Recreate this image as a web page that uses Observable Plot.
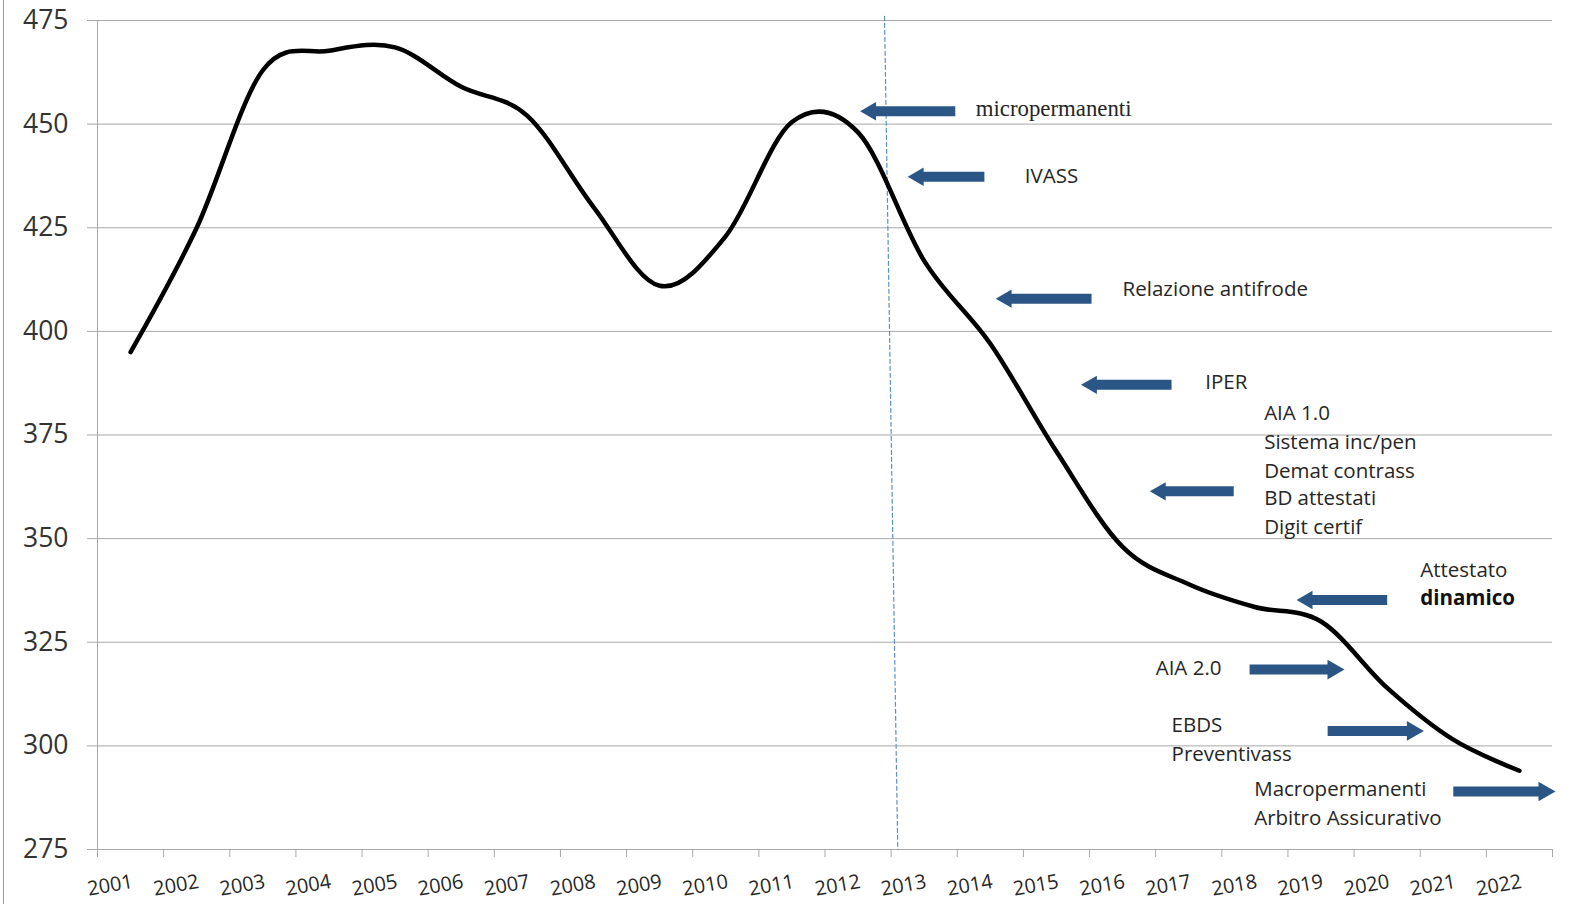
<!DOCTYPE html>
<html>
<head>
<meta charset="utf-8">
<script src="https://cdn.jsdelivr.net/npm/d3@7"></script>
<script src="https://cdn.jsdelivr.net/npm/@observablehq/plot@0.6"></script>
<style>
  html, body { margin: 0; padding: 0; background: #fff; overflow: hidden; }
  #wrap { position: relative; width: 1575px; height: 904px; overflow: hidden; }
  #wrap svg { display: block; max-width: none !important; }
  #edge { position: absolute; left: 3px; top: 0; width: 1px; height: 904px; background: #9a9a9a; }
</style>
</head>
<body>
<div id="wrap"><div id="edge"></div></div>
<script>
// ---- data ----
const years = [2001, 2002, 2003, 2004, 2005, 2006, 2007, 2008, 2009, 2010, 2011,
               2012, 2013, 2014, 2015, 2016, 2017, 2018, 2019, 2020, 2021, 2022];
const values = [395, 425, 463, 467.7, 468.5, 459, 452, 430, 411, 423, 450.5,
                448, 417, 397, 371, 348, 339, 333.5, 330, 314, 301.5, 294];
const yTicks = [275, 300, 325, 350, 375, 400, 425, 450, 475];
const xBoundaries = [2000.5, 2001.5, 2002.5, 2003.5, 2004.5, 2005.5, 2006.5, 2007.5,
                     2008.5, 2009.5, 2010.5, 2011.5, 2012.5, 2013.5, 2014.5, 2015.5,
                     2016.5, 2017.5, 2018.5, 2019.5, 2020.5, 2021.5, 2022.5];

// dashed marker line (slightly slanted, as drawn)
const markerX = [2012.40, 2012.60];
const markerY = [476, 275];

// block arrows: tail, tip (x in years), y value
const arrowTail = [2013.47, 2013.91, 2015.53, 2016.74, 2017.68, 2020.0, 2017.92, 2019.10, 2021.0];
const arrowTip  = [2012.04, 2012.76, 2014.09, 2015.38, 2016.42, 2018.64, 2019.35, 2020.55, 2022.54];
const arrowY    = [453.1, 437.3, 407.9, 387.1, 361.4, 335.2, 318.4, 303.6, 289.0];

// annotation texts
const noteText = ["IVASS", "Relazione antifrode", "IPER",
  "AIA 1.0", "Sistema inc/pen", "Demat contrass", "BD attestati", "Digit certif",
  "Attestato", "AIA 2.0", "EBDS", "Preventivass", "Macropermanenti", "Arbitro Assicurativo"];
const noteX = [2014.52, 2016.0, 2017.25,
  2018.14, 2018.14, 2018.14, 2018.14, 2018.14,
  2020.50, 2016.50, 2016.74, 2016.74, 2017.99, 2017.99];
const noteY = [437.5, 410.0, 387.6,
  380.1, 373.1, 366.3, 359.6, 352.8,
  342.3, 318.6, 304.9, 297.9, 289.4, 282.4];
const boldText = ["dinamico"];
const boldX = [2020.50];
const boldY = [335.6];
const serifText = ["micropermanenti"];
const serifX = [2013.78];
const serifY = [453.8];

// ---- build ----
const series = years.map((y, i) => ({year: y, value: values[i]}));
const arrows = arrowTail.map((t, i) => ({x1: t, x2: arrowTip[i], y: arrowY[i], left: arrowTip[i] < t}));
const notes = noteText.map((t, i) => ({text: t, x: noteX[i], y: noteY[i]}));
const bolds = boldText.map((t, i) => ({text: t, x: boldX[i], y: boldY[i]}));
const serifs = serifText.map((t, i) => ({text: t, x: serifX[i], y: serifY[i]}));
const marker = markerX.map((x, i) => ({x, y: markerY[i]}));

const arrowColor = "#2b5585";
const gridColor = "#a8a8a8";
const textColor = "#262626";

const chart = Plot.plot({
  width: 1575,
  height: 904,
  marginLeft: 97,
  marginRight: 23,
  marginTop: 20,
  marginBottom: 55,
  x: {domain: [2000.5, 2022.5]},
  y: {domain: [275, 475]},
  style: {fontFamily: "'Open Sans', sans-serif", color: textColor, background: "white", overflow: "visible"},
  marks: [
    Plot.gridY(yTicks, {stroke: gridColor, strokeOpacity: 1, strokeWidth: 1}),
    Plot.axisY(yTicks, {tickSize: 10, tickPadding: 19, fontSize: 26.5, stroke: gridColor, fill: "#333", label: null}),
    Plot.ruleX([2000.5], {stroke: gridColor}),
    Plot.axisX(xBoundaries, {tickSize: 8, tickFormat: () => "", stroke: gridColor, label: null}),
    Plot.text(years, {x: d => d, frameAnchor: "bottom", dy: 32, dx: 2, rotate: -10, fontSize: 20,
                      fill: textColor, text: d => String(d), textAnchor: "end", lineAnchor: "middle"}),
    Plot.line(marker, {x: "x", y: "y", stroke: "#5b8fc9", strokeWidth: 1.2, strokeDasharray: "4,3", clip: false}),
    Plot.line(series, {x: "year", y: "value", curve: "cardinal", stroke: "#000", strokeWidth: 4.5}),
    Plot.arrow(arrows, {x1: "x1", x2: "x2", y1: "y", y2: "y", stroke: arrowColor, strokeWidth: 10,
                        headLength: 0, insetEnd: 13, strokeLinecap: "butt", clip: false}),
    Plot.dot(arrows.filter(d => d.left), {x: "x2", y: "y", symbol: "triangle", r: 6.8, fill: arrowColor,
                        stroke: "none", rotate: -90, dx: 10}),
    Plot.dot(arrows.filter(d => !d.left), {x: "x2", y: "y", symbol: "triangle", r: 7.3, fill: arrowColor,
                        stroke: "none", rotate: 90, dx: -11, clip: false}),
    Plot.text(notes, {x: "x", y: "y", text: "text", textAnchor: "start", lineAnchor: "middle",
                      fontSize: 20.5, fill: textColor}),
    Plot.text(bolds, {x: "x", y: "y", text: "text", textAnchor: "start", lineAnchor: "middle",
                      fontSize: 20.5, fontWeight: "bold", fill: "#111"}),
    Plot.text(serifs, {x: "x", y: "y", text: "text", textAnchor: "start", lineAnchor: "middle",
                       fontSize: 22.8, fontFamily: "'Liberation Serif', serif", fill: textColor})
  ]
});
document.getElementById("wrap").appendChild(chart);
</script>
</body>
</html>
